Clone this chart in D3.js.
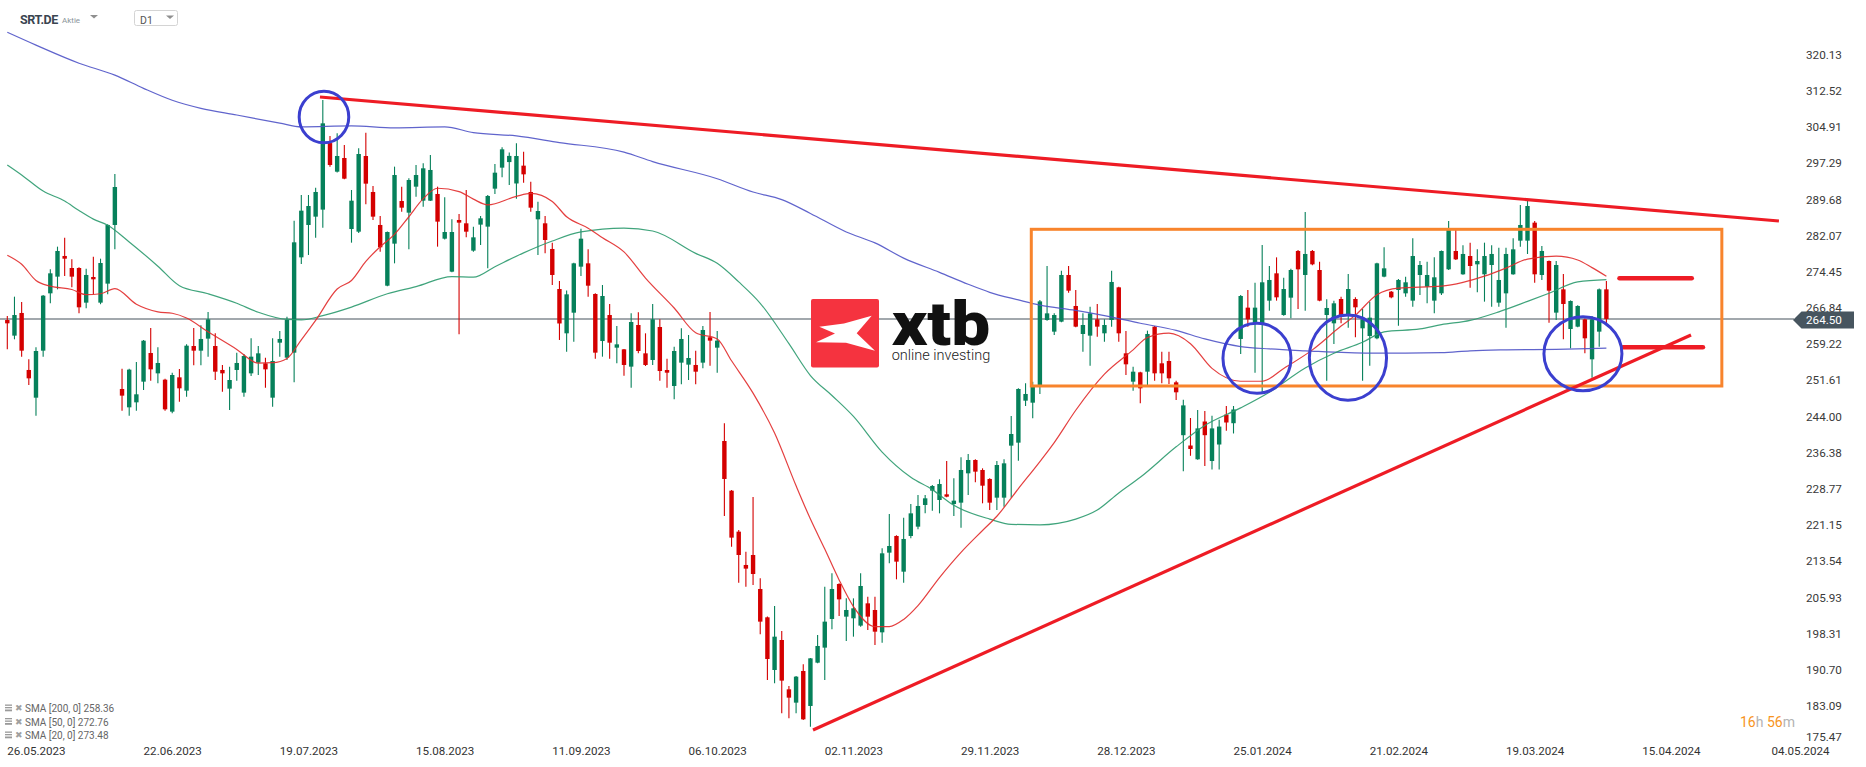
<!DOCTYPE html>
<html>
<head>
<meta charset="utf-8">
<script src="https://cdn.jsdelivr.net/npm/d3@7"></script>
<style>
  html, body { margin: 0; padding: 0; background: #ffffff; }
  svg { display: block; font-family: Roboto, "Noto Sans", sans-serif; }
</style>
</head>
<body>
<svg id="chart" width="1866" height="767"></svg>
<script>
// ---- Instrument ----
const symbol = "SRT.DE";
const assetType = "Aktie";
const interval = "D1";

// ---- Daily candles (bar index 0 = first visible session) ----
const opens = [264.28,260.99,265.76,253.77,247.94,257.83,269.89,273.40,277.75,275.22,275.22,267.93,273.33,267.93,271.93,284.27,249.77,245.91,246.96,251.31,257.34,253.06,251.73,245.00,252.22,249.42,258.81,257.83,260.36,258.81,253.77,249.84,253.77,249.00,253.06,255.31,255.17,247.94,259.51,256.36,257.41,277.46,284.27,286.02,287.50,301.50,295.48,298.36,283.42,282.86,298.78,291.21,284.27,271.50,280.34,289.31,286.86,292.33,289.38,289.38,290.79,281.39,274.45,285.32,284.62,278.87,284.34,283.92,291.91,296.33,297.50,293.00,296.75,291.21,285.46,284.62,279.22,270.80,261.48,265.82,275.50,276.20,269.75,259.86,265.33,258.46,258.11,254.47,263.23,257.27,255.87,262.81,253.76,250.40,255.31,254.89,254.82,255.31,260.64,258.46,238.83,228.38,219.76,212.75,214.85,207.70,201.74,190.66,196.97,186.59,183.79,190.45,183.09,192.20,195.36,201.39,208.75,201.88,201.53,199.99,204.68,203.28,198.58,215.34,218.85,211.34,218.85,220.81,225.37,228.38,226.42,227.61,225.58,225.86,232.03,234.83,232.73,230.84,226.91,226.91,237.85,238.48,247.31,246.89,250.60,264.28,261.83,263.93,273.75,267.23,261.34,260.99,264.42,261.48,264.28,271.15,257.27,251.31,253.27,253.41,262.88,255.17,255.66,251.17,240.05,237.88,234.98,242.93,234.62,238.09,244.38,242.57,260.29,266.88,263.58,263.58,268.35,274.10,265.33,268.98,278.80,273.75,278.80,274.80,265.33,263.58,268.70,265.33,268.70,262.53,260.92,260.43,273.40,270.24,270.59,269.89,268.35,273.75,271.29,268.35,269.89,274.94,278.80,273.89,277.74,275.99,273.89,275.85,267.93,269.89,273.89,280.97,280.97,284.76,273.75,276.69,265.83,270.73,262.39,262.88,264.42,256.01,261.83,270.73];
const highs = [265.12,269.19,268.07,256.01,258.53,269.54,274.94,279.71,281.60,277.04,275.40,275.08,277.60,277.18,284.41,294.99,254.05,254.05,255.45,260.07,262.60,258.53,251.90,253.20,253.98,259.16,262.60,263.16,265.97,261.48,254.82,254.47,257.41,257.13,260.43,258.81,256.36,260.43,261.97,264.98,285.18,290.58,290.58,292.12,310.56,303.00,303.55,301.09,291.63,300.39,303.69,292.47,286.16,282.90,296.54,292.33,294.08,296.89,297.24,298.99,292.33,290.09,285.46,286.58,291.63,283.92,286.16,290.58,297.10,300.60,299.50,301.44,299.69,293.38,289.17,286.16,280.55,272.49,270.50,276.30,283.49,279.15,269.90,271.64,267.65,263.02,258.20,265.68,265.89,261.48,267.65,264.42,256.15,258.67,262.53,261.13,257.83,263.02,265.97,261.97,242.55,228.52,220.11,215.55,227.05,209.94,201.90,204.12,198.86,187.29,189.40,191.85,193.20,198.02,208.19,210.99,208.90,205.73,205.73,210.99,206.09,206.09,216.25,223.47,219.00,222.70,225.58,227.47,227.47,229.57,230.77,234.62,230.98,235.39,236.10,235.00,233.08,231.00,234.62,234.97,244.09,249.90,250.96,251.31,268.50,275.64,265.68,274.66,275.64,270.59,265.68,267.09,267.65,264.42,274.66,271.30,261.97,254.47,253.41,262.04,263.00,257.62,257.62,251.52,247.48,243.67,245.35,245.14,244.15,243.29,246.19,246.19,269.54,270.59,272.14,280.06,275.64,277.46,273.19,275.08,279.00,287.00,279.00,276.55,268.63,268.35,269.19,273.96,269.05,266.60,268.14,276.30,279.57,270.40,272.90,273.40,281.46,276.69,276.55,277.46,278.90,285.11,283.21,279.99,280.55,279.15,280.55,279.99,279.50,279.50,281.46,288.47,289.31,285.11,279.85,276.80,276.69,273.96,268.40,267.40,264.60,265.12,270.90,272.49];
const lows = [258.11,260.22,256.57,250.61,244.16,256.57,267.79,270.73,273.54,271.15,265.69,266.74,269.68,267.60,269.68,279.15,245.21,244.16,245.21,249.56,251.52,250.96,245.21,244.65,247.10,248.16,254.75,254.75,256.57,251.66,249.21,245.35,251.52,248.16,252.50,252.71,250.05,246.05,256.57,255.87,251.17,276.06,277.96,281.60,283.70,296.50,295.30,293.90,280.55,282.60,288.61,285.32,278.66,271.40,276.20,287.07,279.15,290.23,288.12,289.30,279.71,281.20,274.30,261.27,281.67,278.66,280.06,275.15,290.79,294.29,292.70,289.80,293.17,287.07,277.95,278.31,271.64,260.08,257.62,259.72,273.54,269.19,256.15,256.57,256.15,255.17,252.57,250.05,257.27,254.61,254.82,251.52,250.05,247.59,250.75,251.66,250.75,254.12,254.68,253.20,223.05,216.60,209.03,208.19,208.54,198.16,188.56,187.85,181.54,180.49,181.54,180.14,178.74,192.06,188.56,199.21,202.02,196.76,197.67,199.77,199.07,195.92,196.41,213.10,209.73,209.03,218.36,220.25,223.61,224.18,223.61,226.98,223.05,220.60,227.47,230.14,225.72,224.32,224.32,225.02,226.91,234.69,246.19,243.60,248.70,264.10,261.13,263.80,270.03,262.74,257.62,254.68,260.78,259.72,262.88,259.72,252.71,249.42,246.75,250.61,251.52,250.96,250.82,247.45,232.46,235.72,234.90,233.57,232.81,232.81,240.98,240.41,257.13,262.88,253.20,248.86,266.25,268.35,265.20,264.63,266.60,266.25,275.80,268.20,251.52,259.23,263.58,262.67,260.64,251.52,254.68,260.22,273.30,268.84,263.09,269.19,267.09,269.54,267.79,265.68,269.54,274.80,276.90,273.80,271.08,270.10,268.14,267.09,267.09,262.67,273.80,279.71,278.17,272.14,272.70,263.72,264.28,260.22,258.32,262.74,257.27,252.15,258.67,263.23];
const closes = [263.58,265.33,257.83,252.01,257.76,269.40,274.10,278.80,277.18,273.40,266.95,273.75,272.84,276.27,284.27,292.26,248.37,253.84,248.65,259.93,253.90,255.24,245.49,252.71,249.91,258.88,257.83,260.29,264.42,253.41,253.06,251.66,255.24,256.71,256.57,257.27,253.90,255.66,260.29,264.35,280.62,287.28,288.26,291.21,305.65,296.89,298.78,294.01,289.38,299.20,292.96,286.02,279.57,282.79,294.78,287.91,293.73,294.78,296.19,295.84,284.97,282.79,282.79,284.76,282.86,281.67,285.67,290.37,295.27,300.18,298.80,298.78,294.92,287.91,287.21,281.11,273.75,263.55,269.68,276.20,281.39,271.50,257.41,269.33,259.51,259.16,254.82,263.86,257.76,254.82,264.42,253.55,253.20,257.76,260.29,256.29,253.41,262.18,259.94,259.94,230.84,218.50,214.85,211.98,210.85,200.83,192.97,197.67,188.42,184.84,189.26,180.28,193.11,195.71,200.83,207.70,205.52,203.28,203.63,208.33,201.88,198.72,215.20,216.74,213.45,218.22,223.61,225.16,226.77,229.36,229.78,227.12,226.28,232.73,234.83,232.38,229.43,225.86,233.78,234.13,240.30,249.77,248.72,250.40,268.20,265.68,265.33,273.75,270.45,262.88,263.23,265.68,262.88,263.23,272.28,261.48,254.96,253.41,249.91,261.34,253.06,253.06,252.01,249.07,246.32,237.15,241.48,240.05,241.48,241.86,242.72,245.46,269.33,264.42,266.88,272.21,272.70,269.05,270.80,274.80,274.94,278.17,275.99,268.35,266.81,267.79,265.33,270.80,266.95,264.42,264.77,276.20,275.15,269.05,272.70,272.21,277.74,275.85,273.75,273.26,278.80,283.21,277.04,278.17,275.64,276.69,277.74,278.17,272.70,278.17,279.15,284.27,288.26,273.89,278.80,270.45,275.85,267.65,268.28,267.23,260.43,264.42,270.73,264.50];

// ---- Moving averages (bar index, value) ----
const sma20Bar = [0,2,4,6,9,11,13,15,18,21,23,25,28,32,35,37,39,41,43,46,48,50,52,54,56,58,60,63,65,67,71,73,76,78,81,83,86,89,93,96,99,101,104,107,110,112,114,116,118,121,123,125,127,130,133,136,138,141,144,146,149,153,157,159,162,165,168,172,175,178,182,186,188,191,194,200,203,206,209,212,216,219,221,223];
const sma20Value = [277.9,276.0,272.6,271.4,270.7,269.6,269.8,270.9,267.6,266.0,265.7,264.7,261.8,258.1,255.2,255.3,256.2,260.1,264.2,270.8,272.6,276.6,279.7,282.3,286.0,289.8,292.0,291.3,289.7,288.5,290.3,290.9,289.2,286.0,283.6,281.6,278.6,273.1,266.8,261.6,260.3,255.7,248.9,240.5,229.4,222.4,216.1,209.6,204.0,199.8,199.8,201.3,204.2,210.1,215.4,220.0,223.0,228.8,234.5,238.5,245.3,252.9,258.0,260.6,261.5,259.3,254.1,251.4,251.4,254.1,258.0,263.0,265.3,269.6,271.0,271.4,272.2,273.5,275.2,277.1,277.7,276.9,275.3,273.48];
const sma50Bar = [0,2,5,8,10,12,14,17,21,24,28,32,35,39,41,44,48,53,57,62,65,68,72,76,80,86,90,96,99,102,105,109,112,115,118,122,126,129,132,137,140,144,149,152,155,158,163,167,172,176,181,185,189,192,197,200,204,208,212,215,219,223];
const sma50Value = [296.9,294.8,291.4,289.3,287.3,285.5,284.2,280.7,275.6,271.5,269.8,267.8,265.9,264.4,264.3,265.2,267.0,269.8,271.3,273.4,273.3,275.5,278.4,280.9,282.8,283.6,283.0,278.3,276.2,272.3,267.8,259.3,252.6,248.4,244.0,236.5,231.2,228.6,225.3,222.4,221.3,221.2,222.4,224.3,227.9,231.2,237.6,242.1,245.8,249.1,254.2,257.3,259.6,261.8,262.4,263.3,264.2,266.0,268.2,269.9,272.3,272.76];
const sma200Bar = [0,4,10,15,19,23,27,32,38,41,48,54,61,65,71,77,86,90,99,104,108,112,117,121,125,130,134,137,141,144,149,153,158,163,167,172,176,181,190,195,200,204,209,216,223];
const sma200Value = [324.8,322.1,318.3,315.8,313.0,310.5,308.8,307.4,305.7,304.9,305.1,304.7,304.9,303.7,303.0,301.6,299.6,297.6,294.0,291.2,289.6,286.7,282.8,280.5,277.3,274.3,271.8,270.1,268.5,267.4,266.3,265.2,263.6,262.1,260.3,258.7,258.2,257.8,257.3,257.3,257.4,257.8,258.0,258.1,258.36];
const smaLegend = ["SMA [200, 0] 258.36", "SMA [50, 0] 272.76", "SMA [20, 0] 273.48"];

// ---- Axes ----
const priceTicks = [320.13,312.52,304.91,297.29,289.68,282.07,274.45,266.84,259.22,251.61,244.00,236.38,228.77,221.15,213.54,205.93,198.31,190.70,183.09,175.47];
const dateTickBar = [4,23,42,61,80,99,118,137,156,175,194,213,232,250];
const dateTickLabel = ["26.05.2023","22.06.2023","19.07.2023","15.08.2023","11.09.2023","06.10.2023","02.11.2023","29.11.2023","28.12.2023","25.01.2024","21.02.2024","19.03.2024","15.04.2024","04.05.2024"];

// ---- Drawn analysis (bar index, price) ----
const resistanceLine = [[43.6, 311.19], [247.06, 285.11]];
const supportLine = [[112.36, 178.04], [234.8, 261.13]];
const rangeBox = { fromBar: 142.8, toBar: 239.1, top: 283.36, bottom: 250.40 };
const levelLines = [[224.83, 234.9, 273.06], [225.31, 236.46, 258.54]];
const touchPoints = [[44.16, 306.98], [174.27, 256.22], [186.96, 256.35], [219.73, 257.19]];

// ---- Scales ----
const svg = d3.select("#chart");
const x = d3.scaleLinear().domain([0, 250]).range([7.3, 1800]);
const y = d3.scaleLinear().domain([320.13, 175.47]).range([54.5, 742.2]);

const GREEN = "#06805a", RED = "#d40000";

// ---- Price axis labels ----
const yAxis = d3.axisRight(y).tickValues(priceTicks).tickSize(0).tickPadding(0)
  .tickFormat(d3.format(".2f"));
const yg = svg.append("g").attr("transform", "translate(1806,0)").call(yAxis);
yg.select(".domain").remove();
yg.selectAll("text").attr("fill", "#3a3a3a").attr("font-size", "11.7px")
  .attr("font-family", "Roboto, sans-serif");
yg.selectAll(".tick").filter(d => d === 175.47).attr("transform", "translate(0,737)");

// ---- Date axis labels ----
const xAxis = d3.axisBottom(x).tickValues(dateTickBar).tickSize(0).tickPadding(0)
  .tickFormat((d, i) => dateTickLabel[i]);
const xg = svg.append("g").attr("transform", "translate(0,746.8)").call(xAxis);
xg.select(".domain").remove();
xg.selectAll("text").attr("fill", "#333").attr("font-size", "11.6px")
  .attr("font-family", "Roboto, sans-serif");

// ---- Last price line ----
const last = closes[closes.length - 1];
svg.append("line").attr("x1", 0).attr("x2", 1794)
  .attr("y1", y(last)).attr("y2", y(last))
  .attr("stroke", "#46525c").attr("stroke-width", 1.1);

// ---- Candles ----
const bars = d3.range(opens.length);
const cg = svg.append("g");
const bodyW = 4.4;
cg.selectAll("line.wick").data(bars).join("line").attr("class", "wick")
  .attr("x1", i => x(i)).attr("x2", i => x(i))
  .attr("y1", i => y(Math.max(highs[i], opens[i], closes[i])))
  .attr("y2", i => y(Math.min(lows[i], opens[i], closes[i])))
  .attr("stroke", i => closes[i] >= opens[i] ? GREEN : RED).attr("stroke-width", 1.1);
cg.selectAll("rect.body").data(bars).join("rect").attr("class", "body")
  .attr("x", i => x(i) - bodyW / 2).attr("width", bodyW)
  .attr("y", i => y(Math.max(opens[i], closes[i])))
  .attr("height", i => Math.max(1.2, Math.abs(y(opens[i]) - y(closes[i]))))
  .attr("fill", i => closes[i] >= opens[i] ? GREEN : RED);

// ---- Moving averages ----
const smaLine = d3.line().x(d => x(d[0])).y(d => y(d[1])).curve(d3.curveMonotoneX);
const series = [
  [sma200Bar, sma200Value, "#4f53c6"],
  [sma50Bar, sma50Value, "#2b9a6e"],
  [sma20Bar, sma20Value, "#e12a2a"]
];
series.forEach(([b, v, c]) => {
  svg.append("path").datum(b.map((d, k) => [d, v[k]])).attr("d", smaLine)
    .attr("fill", "none").attr("stroke", c).attr("stroke-width", 1.2).attr("opacity", 0.9);
});

// ---- Logo ----
const logo = svg.append("g").attr("transform", "translate(811,299)");
logo.append("rect").attr("width", 68).attr("height", 68.5).attr("rx", 2).attr("fill", "#f5333f");
logo.append("path")
  .attr("d", "M8.3,27.7 L33,24.6 L60.7,16.7 L45.7,34.3 L64,51.7 L35,43.7 L5,43.3 L24,34.6 Z")
  .attr("fill", "#ffffff");
logo.append("text").attr("x", 80.7).attr("y", 46).attr("font-size", 62).attr("font-weight", 900)
  .attr("font-family", "Roboto, sans-serif").attr("fill", "#111")
  .attr("textLength", 98.5).attr("lengthAdjust", "spacingAndGlyphs").text("xtb");
logo.append("text").attr("x", 80.7).attr("y", 60.5).attr("font-size", 15).attr("font-weight", 300)
  .attr("font-family", "Roboto, sans-serif").attr("fill", "#222")
  .attr("textLength", 98.5).attr("lengthAdjust", "spacingAndGlyphs").text("online investing");

// ---- Analysis drawings ----
const ann = svg.append("g");
ann.append("rect")
  .attr("x", x(rangeBox.fromBar)).attr("y", y(rangeBox.top))
  .attr("width", x(rangeBox.toBar) - x(rangeBox.fromBar))
  .attr("height", y(rangeBox.bottom) - y(rangeBox.top))
  .attr("fill", "none").attr("stroke", "#f8842c").attr("stroke-width", 3);
[resistanceLine, supportLine].forEach(seg => {
  ann.append("line")
    .attr("x1", x(seg[0][0])).attr("y1", y(seg[0][1]))
    .attr("x2", x(seg[1][0])).attr("y2", y(seg[1][1]))
    .attr("stroke", "#ee1c25").attr("stroke-width", 3.2);
});
levelLines.forEach(([a, b, v]) => {
  ann.append("line").attr("x1", x(a)).attr("x2", x(b)).attr("y1", y(v)).attr("y2", y(v))
    .attr("stroke", "#ee1c25").attr("stroke-width", 4.6).attr("stroke-linecap", "round");
});
const ringRadii = [[24.8, 25.8], [34, 35], [38.6, 42.6], [39, 37]];
touchPoints.forEach(([b, v], k) => {
  ann.append("ellipse").attr("cx", x(b)).attr("cy", y(v))
    .attr("rx", ringRadii[k][0]).attr("ry", ringRadii[k][1])
    .attr("fill", "none").attr("stroke", "#3b3fcf").attr("stroke-width", 3);
});

// ---- Last price tag ----
const ly = y(last);
svg.append("path")
  .attr("d", `M1793,${ly + 1} L1801.5,${ly - 7.5} L1854,${ly - 7.5} L1854,${ly + 9.5} L1801.5,${ly + 9.5} Z`)
  .attr("fill", "#47555f");
svg.append("text").attr("x", 1806).attr("y", ly + 1).attr("dy", "0.35em")
  .attr("font-size", "11.7px").attr("fill", "#ffffff").text(d3.format(".2f")(last));

// ---- Header ----
svg.append("text").attr("x", 20).attr("y", 23.5).attr("font-size", 12.5).attr("font-weight", 700)
  .attr("fill", "#3a4550").attr("letter-spacing", -0.4).text(symbol);
svg.append("text").attr("x", 62).attr("y", 23).attr("font-size", 8).attr("fill", "#8a949a").text(assetType);
svg.append("path").attr("d", "M90,15 L98,15 L94,18.5 Z").attr("fill", "#8f8f8f");
svg.append("rect").attr("x", 134.5).attr("y", 10.5).attr("width", 43).attr("height", 15).attr("rx", 2)
  .attr("fill", "#fff").attr("stroke", "#d4d4d4");
svg.append("text").attr("x", 140).attr("y", 23.5).attr("font-size", 10.5).attr("fill", "#555").text(interval);
svg.append("path").attr("d", "M166,15.5 L174,15.5 L170,19 Z").attr("fill", "#8f8f8f");

// ---- Indicator legend ----
smaLegend.forEach((t, k) => {
  const cy = 708.5 + k * 13.5;
  const g = svg.append("g");
  g.append("rect").attr("x", 5).attr("y", cy - 4).attr("width", 7).attr("height", 1.3).attr("fill", "#9a9a9a");
  g.append("rect").attr("x", 5).attr("y", cy - 1.5).attr("width", 7).attr("height", 1.3).attr("fill", "#9a9a9a");
  g.append("rect").attr("x", 5).attr("y", cy + 1).attr("width", 7).attr("height", 1.8).attr("fill", "#9a9a9a");
  g.append("text").attr("x", 14.5).attr("y", cy).attr("dy", "0.35em").attr("font-size", 8.5)
    .attr("fill", "#a0a0a0").text("✖");
  g.append("text").attr("x", 25).attr("y", cy).attr("dy", "0.35em").attr("font-size", 10)
    .attr("fill", "#666").text(t);
});

// ---- Session countdown ----
const cd = svg.append("text").attr("x", 1740).attr("y", 722).attr("dy", "0.35em").attr("font-size", 14);
cd.append("tspan").attr("fill", "#f7941d").text("16");
cd.append("tspan").attr("fill", "#b3b3b3").text("h ");
cd.append("tspan").attr("fill", "#f7941d").text("56");
cd.append("tspan").attr("fill", "#b3b3b3").text("m");
</script>
</body>
</html>
